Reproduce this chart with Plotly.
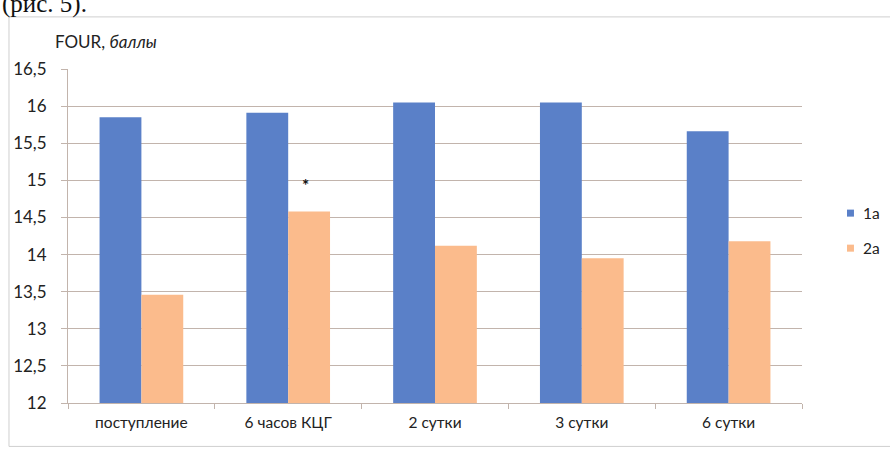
import plotly.graph_objects as go

# FOUR score by time point for the two groups
categories = ["поступление", "6 часов КЦГ", "2 сутки", "3 сутки", "6 сутки"]
group_1a = [15.85, 15.91, 16.05, 16.05, 15.66]
group_2a = [13.46, 14.58, 14.12, 13.95, 14.18]
series_names = ["1а", "2а"]
y_ticks = [12, 12.5, 13, 13.5, 14, 14.5, 15, 15.5, 16, 16.5]
y_tick_text = ["12", "12,5", "13", "13,5", "14", "14,5", "15", "15,5", "16", "16,5"]

BLUE = "#5a80c8"
ORANGE = "#fbbb8c"
GRID = "#c2b4ac"
FONT = "Lato"
colors = [BLUE, ORANGE]

fig = go.Figure()
fig.add_trace(go.Bar(x=categories, y=group_1a, name=series_names[0],
                     marker=dict(color=BLUE, line=dict(width=0))))
fig.add_trace(go.Bar(x=categories, y=group_2a, name=series_names[1],
                     marker=dict(color=ORANGE, line=dict(width=0))))

# significance marker above the second orange bar
fig.add_annotation(x=categories[1], y=group_2a[1], text="<b>*</b>", showarrow=False,
                   xshift=17, yshift=26, font=dict(size=17, color="#111", family=FONT))

# caption line of the surrounding text
fig.add_annotation(xref="paper", yref="paper", x=-0.093, y=1.146,
                   xanchor="left", yanchor="bottom", text="(рис. 5).",
                   showarrow=False,
                   font=dict(family="Liberation Serif", size=25, color="#111"))

# axis title in the top-left corner
fig.add_annotation(xref="paper", yref="paper", x=-0.021, y=1.081,
                   xanchor="left", yanchor="middle", text="FOUR, <i>баллы</i>",
                   showarrow=False, font=dict(family=FONT, size=17, color="#222"))

# chart frame
fig.add_shape(type="rect", xref="paper", yref="paper",
              x0=-0.0804, x1=1.3, y0=-0.13, y1=1.156,
              line=dict(color="#cfcfcf", width=1), layer="below")

# compact legend: small square key followed by the series name
legend_y = [0.5685, 0.4636]
for name, col, ly in zip(series_names, colors, legend_y):
    fig.add_shape(type="rect", xref="paper", yref="paper",
                  x0=1.0613, x1=1.0708, y0=ly - 0.0105, y1=ly + 0.0105,
                  fillcolor=col, line=dict(width=0))
    fig.add_annotation(xref="paper", yref="paper", x=1.0804, y=ly,
                       xanchor="left", yanchor="middle", text=name,
                       showarrow=False, font=dict(family=FONT, size=15.5, color="#222"))

fig.update_layout(
    width=890, height=451,
    margin=dict(l=68, r=88, t=69, b=48, autoexpand=False),
    paper_bgcolor="white", plot_bgcolor="white",
    barmode="group", bargap=0.43, bargroupgap=0,
    separators=", ",
    font=dict(family=FONT, size=15.5, color="#222"),
    showlegend=False,
)
fig.update_xaxes(type="category", tickson="boundaries", ticks="outside",
                 ticklen=5, tickcolor=GRID, showline=True, linecolor=GRID,
                 linewidth=1, showgrid=False, tickfont=dict(size=15.5),
                 ticklabelstandoff=5)
fig.update_yaxes(range=[12, 16.5], tickvals=y_ticks, ticktext=y_tick_text,
                 ticks="outside", ticklen=6, tickcolor=GRID,
                 showline=True, linecolor=GRID, linewidth=1,
                 showgrid=True, gridcolor=GRID, gridwidth=1,
                 zeroline=False, tickfont=dict(size=17),
                 ticklabelstandoff=11)

fig.write_html("out.html")
